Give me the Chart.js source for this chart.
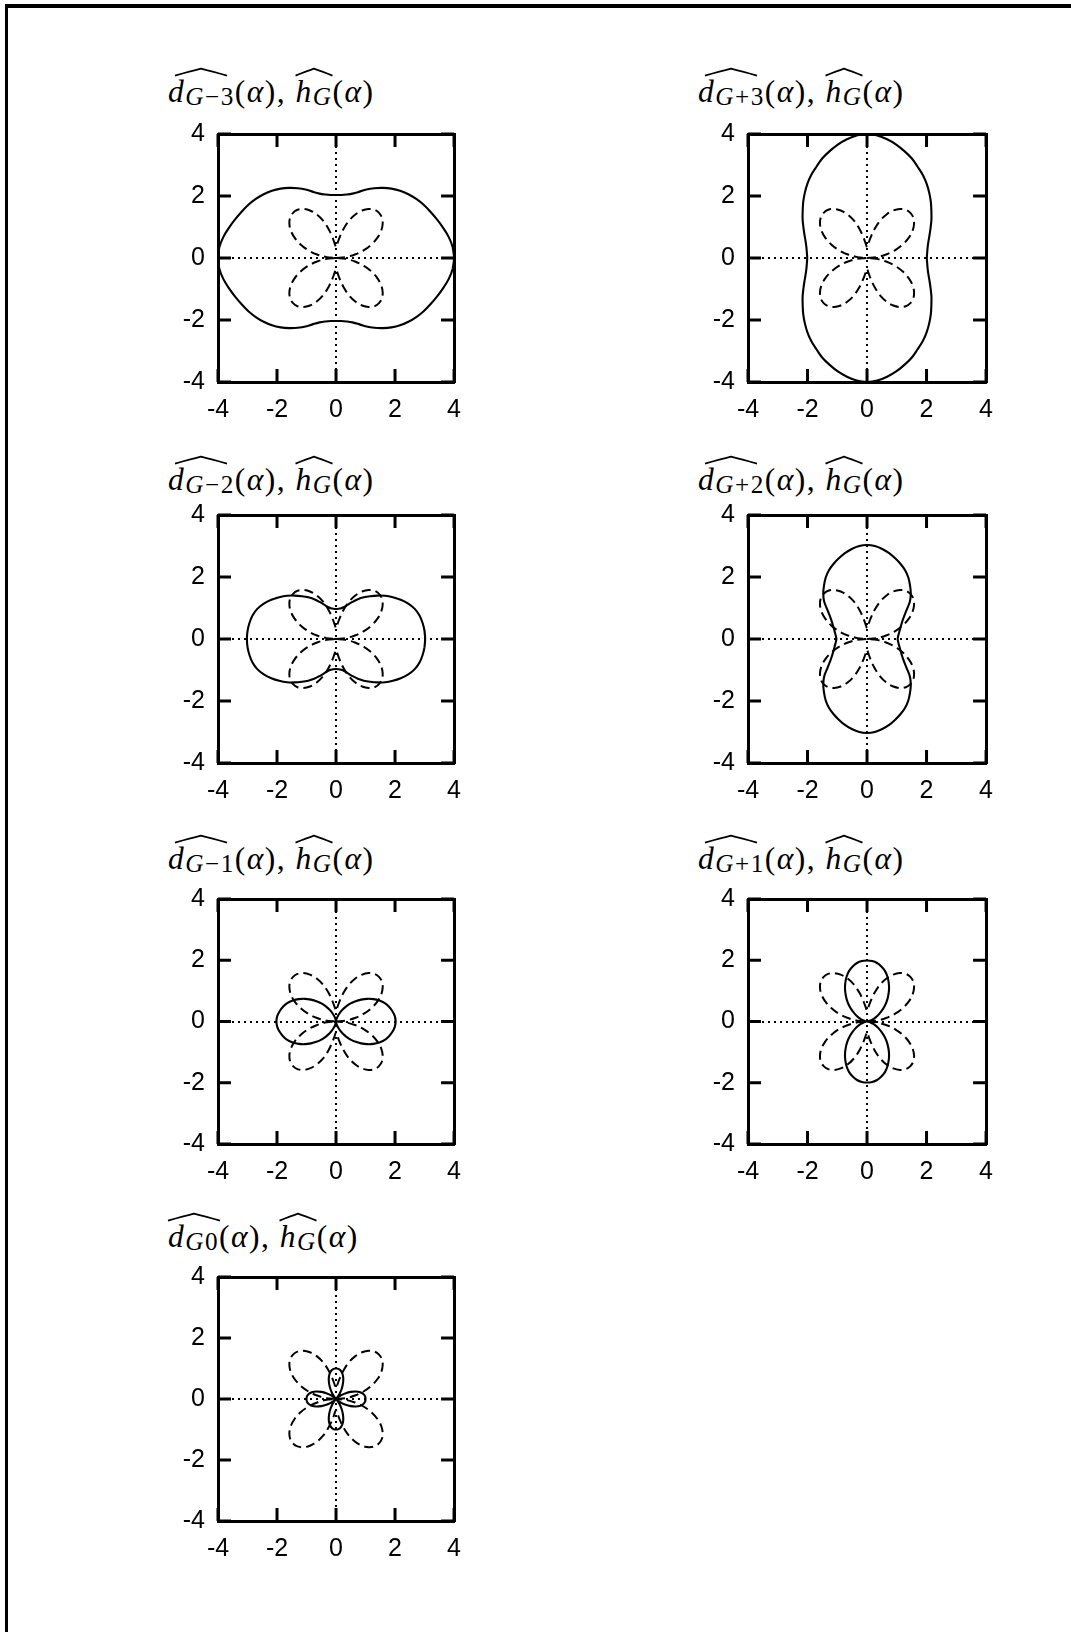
<!DOCTYPE html>
<html>
<head>
<meta charset="utf-8">
<script src="https://cdn.jsdelivr.net/npm/chart.js@4.4.1/dist/chart.umd.min.js"></script>
<style>
  html, body { margin: 0; padding: 0; background: #fff; }
  body { width: 1071px; height: 1632px; position: relative; overflow: hidden; }
  .page { position: absolute; left: 5px; top: 4px; width: 1100px; height: 1700px;
          border-top: 4px solid #000; border-left: 3px solid #000; }
  .title { position: absolute; font-family: "Liberation Serif", "Times New Roman", serif;
           font-size: 31.5px; line-height: 30px; letter-spacing: 1.5px; white-space: nowrap; color: #000; }
  .title i { font-style: italic; }
  .title .sub { font-size: 0.8em; line-height: 1; position: relative; top: 0.15em; }
  .grp { position: relative; display: inline-block; line-height: 30px; }
  .hat { position: absolute; left: 50%; transform: translateX(-50%); top: -9px; height: 8px; overflow: visible; }
  .cell { position: absolute; }
  canvas { position: absolute; }
</style>
</head>
<body>
<div class="page"></div>
<div id="figure"></div>
<script>
// Axis ticks shared by every panel
const tickValues = [-4, -2, 0, 2, 4];

// Polar sample angles (degrees) for one quadrant; the curves are mirror-symmetric
const quadrantAngles = [0, 5, 10, 15, 20, 25, 30, 35, 40, 45, 50, 55, 60, 65, 70, 75, 80, 85, 90];

// h_G(alpha): dashed four-leaf curve, radius at each quadrant angle
const hG   = [0, 0.32, 0.65, 0.98, 1.28, 1.55, 1.77, 1.93, 2.03, 2.06, 2.03, 1.93, 1.77, 1.55, 1.28, 0.96, 0.66, 0.45, 0.35];

// d_{G-3} ... d_{G+3}: solid curves, radius at each quadrant angle
const dGm3 = [4.00, 3.97, 3.88, 3.76, 3.64, 3.53, 3.43, 3.32, 3.20, 3.07, 2.92, 2.76, 2.60, 2.44, 2.27, 2.15, 2.08, 2.04, 2.03];
const dGp3 = [2.01, 2.03, 2.07, 2.14, 2.24, 2.36, 2.50, 2.64, 2.80, 2.96, 3.12, 3.27, 3.40, 3.55, 3.67, 3.79, 3.89, 3.97, 4.00];
const dGm2 = [3.02, 3.01, 2.98, 2.93, 2.84, 2.70, 2.53, 2.35, 2.17, 1.98, 1.80, 1.64, 1.48, 1.32, 1.18, 1.07, 1.01, 0.98, 0.97];
const dGp2 = [1.03, 1.05, 1.09, 1.14, 1.21, 1.30, 1.43, 1.62, 1.88, 2.08, 2.25, 2.42, 2.56, 2.67, 2.77, 2.87, 2.95, 3.01, 3.03];
const dGm1 = [2.02, 2.00, 1.94, 1.86, 1.76, 1.62, 1.46, 1.29, 1.11, 0.94, 0.77, 0.60, 0.45, 0.32, 0.21, 0.12, 0.06, 0.02, 0.00];
const dGp1 = [0.00, 0.02, 0.06, 0.12, 0.21, 0.32, 0.45, 0.60, 0.77, 0.94, 1.11, 1.29, 1.46, 1.62, 1.76, 1.86, 1.94, 1.98, 1.99];
const dG0  = [1.00, 0.99, 0.94, 0.85, 0.72, 0.55, 0.38, 0.22, 0.08, 0.00, 0.08, 0.22, 0.38, 0.55, 0.72, 0.85, 0.94, 0.99, 1.00];

// Subscript offsets shown in the panel titles
const offsetLabels = ['\u22123', '+3', '\u22122', '+2', '\u22121', '+1', '0'];
const solidCurves  = [dGm3, dGp3, dGm2, dGp2, dGm1, dGp1, dG0];

// Plot-area boxes (page pixels) for the two-column grid
const colLeft   = [218, 748];
const colWidth  = [236, 238];
const rowTop    = [134, 515, 899, 1277];
const rowH      = [248, 248, 245, 244];
const titleBase = [102, 490, 869, 1247];

const AXIS_LEFT = 68, AXIS_RIGHT = 16, AXIS_TOP = 18, AXIS_BOTTOM = 52, TICK_LEN = 13;

Chart.defaults.font.family = '"Liberation Sans", Arial, sans-serif';
Chart.defaults.font.size = 25;
Chart.defaults.color = '#000';

function radiusAt(r, deg) {
  const d = ((deg % 360) + 360) % 360;
  let a;
  if (d <= 90) a = d;
  else if (d <= 180) a = 180 - d;
  else if (d <= 270) a = d - 180;
  else a = 360 - d;
  return r[quadrantAngles.indexOf(a)];
}

// Closed polar curve as x/y points, walking the full circle
function polarLoop(r, fromDeg, toDeg) {
  const step = quadrantAngles[1] - quadrantAngles[0];
  const pts = [];
  for (let deg = fromDeg; deg <= toDeg; deg += step) {
    const rr = radiusAt(r, deg), t = deg * Math.PI / 180;
    pts.push({ x: rr * Math.cos(t), y: rr * Math.sin(t) });
  }
  return pts;
}

// Inward tick marks on all four sides of the frame
const innerTicks = {
  id: 'innerTicks',
  afterDatasetsDraw(chart) {
    const { ctx, chartArea: a } = chart;
    const sx = chart.scales.x, sy = chart.scales.y;
    ctx.save();
    ctx.strokeStyle = '#000';
    ctx.lineWidth = 3;
    ctx.beginPath();
    sx.ticks.forEach(t => {
      const px = sx.getPixelForValue(t.value);
      ctx.moveTo(px, a.bottom); ctx.lineTo(px, a.bottom - TICK_LEN);
      ctx.moveTo(px, a.top);    ctx.lineTo(px, a.top + TICK_LEN);
    });
    sy.ticks.forEach(t => {
      const py = sy.getPixelForValue(t.value);
      ctx.moveTo(a.left, py);  ctx.lineTo(a.left + TICK_LEN, py);
      ctx.moveTo(a.right, py); ctx.lineTo(a.right - TICK_LEN, py);
    });
    ctx.stroke();
    ctx.restore();
  }
};

const tickFont = { family: '"Liberation Sans", Arial, sans-serif', size: 25 };
const setTicks = s => { s.ticks = tickValues.map(v => ({ value: v })); };
const zeroLine = c => (c.tick && c.tick.value === 0) ? '#000' : 'rgba(0,0,0,0)';

function hatSvg(width) {
  return '<svg class="hat" style="width:' + width + '" viewBox="0 0 100 10" preserveAspectRatio="none">' +
         '<path d="M0,9.5 Q30,4 50,0.8 Q70,4 100,9.5" fill="none" stroke="#000" stroke-width="1.7" vector-effect="non-scaling-stroke"/></svg>';
}

function titleHtml(label) {
  return '<span class="grp"><i>d</i><span class="sub"><i>G</i>' + label + '</span>' + hatSvg('52px') + '</span>' +
         '(<i>\u03b1</i>), ' +
         '<span class="grp"><i>h</i><span class="sub"><i>G</i></span>' + hatSvg('100%') + '</span>' +
         '(<i>\u03b1</i>)';
}

const fig = document.getElementById('figure');

solidCurves.forEach((curve, i) => {
  const col = i % 2, row = Math.floor(i / 2);
  const L = colLeft[col], W = colWidth[col], T = rowTop[row], H = rowH[row];

  const title = document.createElement('div');
  title.className = 'title';
  title.style.left = (L - 50) + 'px';
  title.style.top = (titleBase[row] - 25.5) + 'px';
  title.innerHTML = titleHtml(offsetLabels[i]);
  fig.appendChild(title);

  const cell = document.createElement('div');
  cell.className = 'cell';
  cell.style.width = (AXIS_LEFT + W + AXIS_RIGHT + 40) + 'px';
  cell.style.height = (AXIS_TOP + H + AXIS_BOTTOM + 40) + 'px';
  fig.appendChild(cell);

  const canvas = document.createElement('canvas');
  canvas.width = AXIS_LEFT + W + AXIS_RIGHT;
  canvas.height = AXIS_TOP + H + AXIS_BOTTOM;
  canvas.style.left = '0px';
  canvas.style.top = '0px';
  cell.appendChild(canvas);

  const chart = new Chart(canvas, {
    type: 'scatter',
    data: {
      datasets: [
        { label: 'h_G', data: polarLoop(hG, 0, 360), showLine: true, borderColor: '#000',
          borderWidth: 2, borderDash: [9, 5], pointRadius: 0, tension: 0.35, fill: false, clip: 4 },
        { label: 'd_G' + offsetLabels[i], data: polarLoop(curve, -5, 365), showLine: true, borderColor: '#000',
          borderWidth: 2.1, pointRadius: 0, tension: 0.35, fill: false, clip: 4 }
      ]
    },
    options: {
      responsive: false,
      maintainAspectRatio: false,
      animation: false,
      events: [],
      layout: { padding: 0 },
      plugins: { legend: { display: false }, tooltip: { enabled: false } },
      scales: {
        x: {
          type: 'linear', position: 'bottom', min: -4, max: 4,
          afterBuildTicks: setTicks, afterFit: s => { s.height = AXIS_BOTTOM; },
          grid: { display: true, drawTicks: false, color: zeroLine, lineWidth: 2 },
          border: { display: true, color: '#000', width: 3, dash: [2, 4] },
          ticks: { color: '#000', font: tickFont, padding: 13, maxRotation: 0, autoSkip: false, callback: v => String(v) }
        },
        xTop: {
          type: 'linear', position: 'top', min: -4, max: 4,
          afterBuildTicks: setTicks, afterFit: s => { s.height = AXIS_TOP; },
          grid: { display: false, drawTicks: false },
          border: { display: true, color: '#000', width: 3 },
          ticks: { display: false }
        },
        y: {
          type: 'linear', position: 'left', min: -4, max: 4,
          afterBuildTicks: setTicks, afterFit: s => { s.width = AXIS_LEFT; },
          grid: { display: true, drawTicks: false, color: zeroLine, lineWidth: 2 },
          border: { display: true, color: '#000', width: 3, dash: [2, 4] },
          ticks: { color: '#000', font: tickFont, padding: 13, autoSkip: false, callback: v => String(v) }
        },
        yRight: {
          type: 'linear', position: 'right', min: -4, max: 4,
          afterBuildTicks: setTicks, afterFit: s => { s.width = AXIS_RIGHT; },
          grid: { display: false, drawTicks: false },
          border: { display: true, color: '#000', width: 3 },
          ticks: { display: false }
        }
      }
    },
    plugins: [innerTicks]
  });

  // Grow or shrink the canvas until the plot area has the wanted size, then pin it in place
  for (let k = 0; k < 3; k++) {
    const a = chart.chartArea;
    const cw = Math.round(chart.width + (W - (a.right - a.left)));
    const ch = Math.round(chart.height + (H - (a.bottom - a.top)));
    if (cw === chart.width && ch === chart.height) break;
    cell.style.width = (cw + 40) + 'px';
    cell.style.height = (ch + 40) + 'px';
    chart.resize(cw, ch);
  }
  const a = chart.chartArea;
  cell.style.left = (L - a.left) + 'px';
  cell.style.top = (T - a.top) + 'px';
});
</script>
</body>
</html>
